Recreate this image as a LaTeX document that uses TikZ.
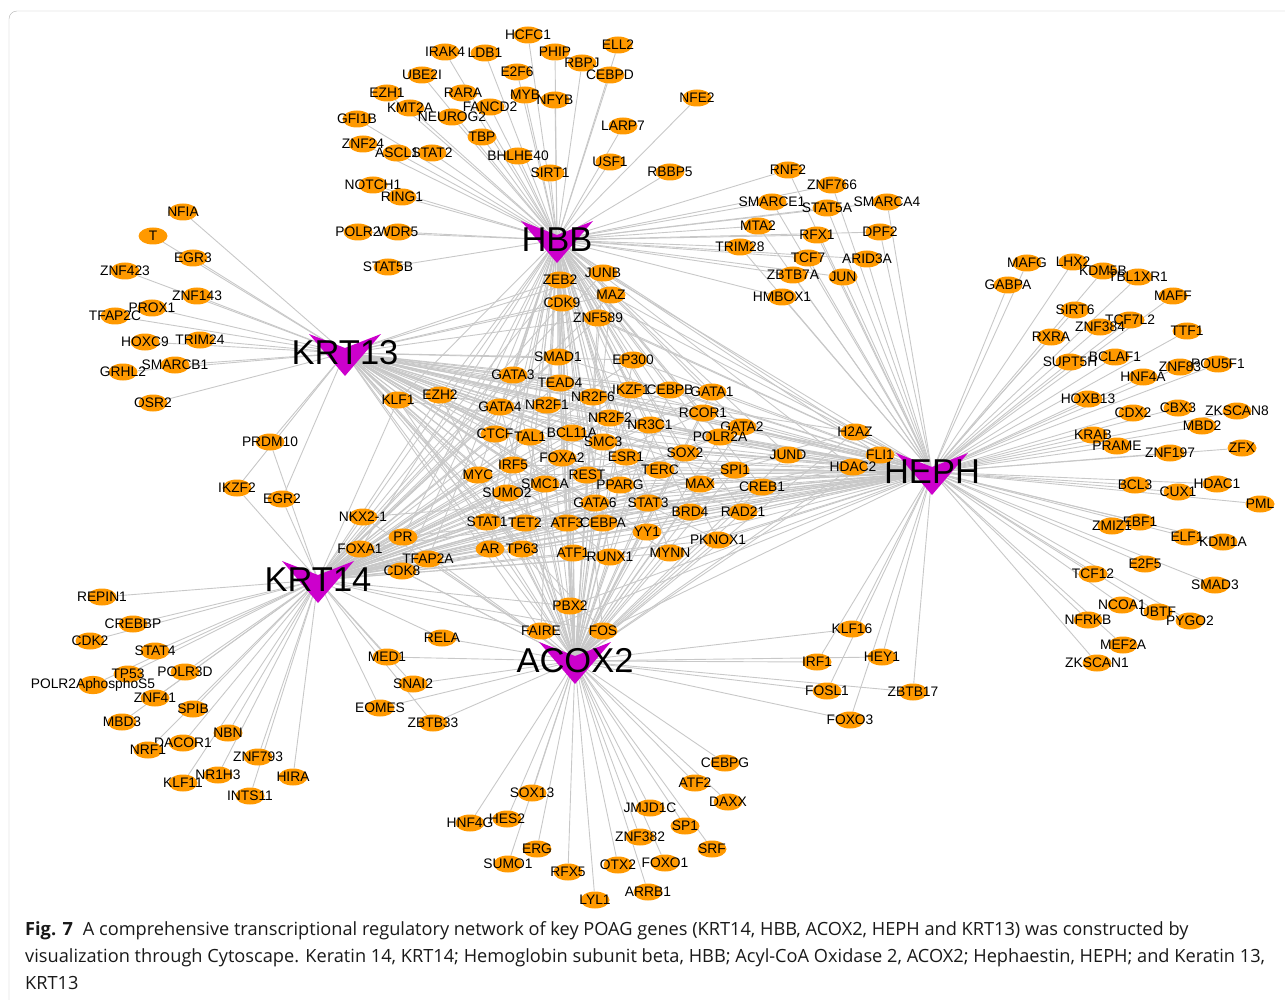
\documentclass[tikz,border=0pt]{standalone}
\usepackage{fontspec}
\setmainfont{Liberation Sans}
\newfontfamily\capfont{Open Sans}
\usetikzlibrary{shapes.geometric,backgrounds}
\definecolor{geneorange}{RGB}{255,153,0}
\definecolor{hubpink}{RGB}{204,0,204}
\definecolor{linkgray}{RGB}{200,200,200}
\definecolor{framegray}{RGB}{180,180,180}
\newcommand{\hubvee}[1]{%
  \fill[hubpink] ([shift={(-36,-19)}]#1.center) -- ([shift={(0,-5)}]#1.center)
    -- ([shift={(36,-19)}]#1.center) -- ([shift={(0,23)}]#1.center) -- cycle;}
\begin{document}
\begin{tikzpicture}[x=1pt,y=-1pt,
  gene/.style={ellipse,fill=geneorange,minimum width=29,minimum height=17,inner sep=0,
    font=\fontsize{13.8}{14}\selectfont,
    execute at begin node={\hbox to 0pt\bgroup\hss},
    execute at end node={\hss\egroup}},
  hub/.style={inner sep=0,font=\fontsize{34.5}{36}\selectfont},
  link/.style={draw=linkgray,line width=0.9},
  captext/.style={anchor=base west,inner sep=0,text=black!90,font=\capfont\fontsize{18.2}{20}\selectfont}]
  \useasboundingbox (0,0) rectangle (1285,1000);
  \draw [framegray,rounded corners=8] (9,11) rectangle (1330,1040);

  % hubs
  \node [hub] (HBB) at (557,240) {HBB};
  \node [hub] (KRT13) at (345,353) {KRT13};
  \node [hub] (KRT14) at (318,580) {KRT14};
  \node [hub] (ACOX2) at (575,661) {ACOX2};
  \node [hub] (HEPH) at (932,472) {HEPH};

  % HBB targets
  \node [gene] (HCFC1) at (528,35) {HCFC1};
  \node [gene] (IRAK4) at (445,52) {IRAK4};
  \node [gene] (LDB1) at (485,53) {LDB1};
  \node [gene] (PHIP) at (555,52) {PHIP};
  \node [gene] (ELL2) at (618,45) {ELL2};
  \node [gene] (RBPJ) at (582,63) {RBPJ};
  \node [gene] (E2F6) at (517,72) {E2F6};
  \node [gene] (CEBPD) at (610,75) {CEBPD};
  \node [gene] (UBE2I) at (422,75) {UBE2I};
  \node [gene] (EZH1) at (387,93) {EZH1};
  \node [gene] (RARA) at (463,93) {RARA};
  \node [gene] (MYB) at (525,95) {MYB};
  \node [gene] (NFYB) at (555,100) {NFYB};
  \node [gene] (FANCD2) at (490,107) {FANCD2};
  \node [gene] (KMT2A) at (410,108) {KMT2A};
  \node [gene] (NEUROG2) at (452,117) {NEUROG2};
  \node [gene] (GFI1B) at (357,119) {GFI1B};
  \node [gene] (NFE2) at (697,98) {NFE2};
  \node [gene] (LARP7) at (623,126) {LARP7};
  \node [gene] (TBP) at (482,137) {TBP};
  \node [gene] (ZNF24) at (363,144) {ZNF24};
  \node [gene] (ASCL1) at (397,153) {ASCL1};
  \node [gene] (STAT2) at (432,153) {STAT2};
  \node [gene] (BHLHE40) at (518,156) {BHLHE40};
  \node [gene] (USF1) at (610,162) {USF1};
  \node [gene] (SIRT1) at (550,173) {SIRT1};
  \node [gene] (RBBP5) at (670,172) {RBBP5};
  \node [gene] (NOTCH1) at (373,185) {NOTCH1};
  \node [gene] (RING1) at (402,197) {RING1};
  \node [gene] (POLR2) at (358,232) {POLR2};
  \node [gene] (WDR5) at (398,232) {WDR5};
  \node [gene] (STAT5B) at (388,267) {STAT5B};

  % HBB and HEPH targets
  \node [gene] (RNF2) at (788,170) {RNF2};
  \node [gene] (ZNF766) at (832,185) {ZNF766};
  \node [gene] (SMARCE1) at (772,202) {SMARCE1};
  \node [gene] (STAT5A) at (827,208) {STAT5A};
  \node [gene] (SMARCA4) at (887,202) {SMARCA4};
  \node [gene] (MTA2) at (758,226) {MTA2};
  \node [gene] (RFX1) at (817,235) {RFX1};
  \node [gene] (DPF2) at (880,232) {DPF2};
  \node [gene] (TRIM28) at (740,247) {TRIM28};
  \node [gene] (TCF7) at (808,258) {TCF7};
  \node [gene] (ARID3A) at (867,259) {ARID3A};
  \node [gene] (ZBTB7A) at (793,275) {ZBTB7A};
  \node [gene] (JUN) at (843,277) {JUN};
  \node [gene] (HMBOX1) at (782,297) {HMBOX1};

  % KRT13 targets
  \node [gene] (NFIA) at (183,212) {NFIA};
  \node [gene] (T) at (153,236) {T};
  \node [gene] (EGR3) at (193,258) {EGR3};
  \node [gene] (ZNF423) at (125,271) {ZNF423};
  \node [gene] (ZNF143) at (197,296) {ZNF143};
  \node [gene] (PROX1) at (152,308) {PROX1};
  \node [gene] (TFAP2C) at (115,316) {TFAP2C};
  \node [gene] (TRIM24) at (200,340) {TRIM24};
  \node [gene] (HOXC9) at (145,342) {HOXC9};
  \node [gene] (SMARCB1) at (175,365) {SMARCB1};
  \node [gene] (GRHL2) at (123,372) {GRHL2};
  \node [gene] (OSR2) at (153,403) {OSR2};
  \node [gene] (PRDM10) at (270,442) {PRDM10};
  \node [gene] (IKZF2) at (237,488) {IKZF2};
  \node [gene] (EGR2) at (282,499) {EGR2};

  % KRT14 targets
  \node [gene] (REPIN1) at (102,597) {REPIN1};
  \node [gene] (CREBBP) at (133,624) {CREBBP};
  \node [gene] (CDK2) at (90,641) {CDK2};
  \node [gene] (STAT4) at (155,651) {STAT4};
  \node [gene] (TP53) at (128,674) {TP53};
  \node [gene] (POLR3D) at (185,672) {POLR3D};
  \node [gene] (POLR2AphosphoS5) at (93,685) {POLR2AphosphoS5};
  \node [gene] (ZNF41) at (155,698) {ZNF41};
  \node [gene] (SPIB) at (193,709) {SPIB};
  \node [gene] (MBD3) at (122,722) {MBD3};
  \node [gene] (NBN) at (228,733) {NBN};
  \node [gene] (DACOR1) at (183,743) {DACOR1};
  \node [gene] (NRF1) at (148,750) {NRF1};
  \node [gene] (ZNF793) at (258,757) {ZNF793};
  \node [gene] (NR1H3) at (218,775) {NR1H3};
  \node [gene] (HIRA) at (293,777) {HIRA};
  \node [gene] (KLF11) at (183,783) {KLF11};
  \node [gene] (INTS11) at (250,796) {INTS11};
  \node [gene] (RELA) at (442,638) {RELA};
  \node [gene] (MED1) at (387,657) {MED1};
  \node [gene] (SNAI2) at (413,684) {SNAI2};
  \node [gene] (EOMES) at (380,708) {EOMES};
  \node [gene] (ZBTB33) at (433,723) {ZBTB33};

  % ACOX2 targets
  \node [gene] (CEBPG) at (725,763) {CEBPG};
  \node [gene] (ATF2) at (695,783) {ATF2};
  \node [gene] (DAXX) at (728,802) {DAXX};
  \node [gene] (SOX13) at (532,793) {SOX13};
  \node [gene] (JMJD1C) at (650,808) {JMJD1C};
  \node [gene] (HES2) at (507,819) {HES2};
  \node [gene] (HNF4G) at (470,823) {HNF4G};
  \node [gene] (SP1) at (685,826) {SP1};
  \node [gene] (ZNF382) at (640,837) {ZNF382};
  \node [gene] (ERG) at (537,849) {ERG};
  \node [gene] (SRF) at (712,849) {SRF};
  \node [gene] (SUMO1) at (508,864) {SUMO1};
  \node [gene] (OTX2) at (618,865) {OTX2};
  \node [gene] (FOXO1) at (665,863) {FOXO1};
  \node [gene] (RFX5) at (568,872) {RFX5};
  \node [gene] (ARRB1) at (648,892) {ARRB1};
  \node [gene] (LYL1) at (595,900) {LYL1};
  \node [gene] (KLF16) at (852,629) {KLF16};
  \node [gene] (IRF1) at (817,662) {IRF1};
  \node [gene] (HEY1) at (882,657) {HEY1};
  \node [gene] (FOSL1) at (827,691) {FOSL1};
  \node [gene] (ZBTB17) at (913,692) {ZBTB17};
  \node [gene] (FOXO3) at (850,720) {FOXO3};

  % HEPH targets
  \node [gene] (MAFG) at (1027,263) {MAFG};
  \node [gene] (LHX2) at (1073,262) {LHX2};
  \node [gene] (KDM5B) at (1103,271) {KDM5B};
  \node [gene] (TBL1XR1) at (1138,277) {TBL1XR1};
  \node [gene] (GABPA) at (1008,285) {GABPA};
  \node [gene] (MAFF) at (1173,296) {MAFF};
  \node [gene] (SIRT6) at (1075,310) {SIRT6};
  \node [gene] (TCF7L2) at (1130,320) {TCF7L2};
  \node [gene] (ZNF384) at (1100,327) {ZNF384};
  \node [gene] (TTF1) at (1187,331) {TTF1};
  \node [gene] (RXRA) at (1051,337) {RXRA};
  \node [gene] (SUPT5H) at (1070,362) {SUPT5H};
  \node [gene] (BCLAF1) at (1115,357) {BCLAF1};
  \node [gene] (ZNF83) at (1180,367) {ZNF83};
  \node [gene] (POU5F1) at (1218,364) {POU5F1};
  \node [gene] (HNF4A) at (1143,377) {HNF4A};
  \node [gene] (HOXB13) at (1088,399) {HOXB13};
  \node [gene] (CDX2) at (1133,413) {CDX2};
  \node [gene] (CBX3) at (1178,408) {CBX3};
  \node [gene] (ZKSCAN8) at (1237,411) {ZKSCAN8};
  \node [gene] (MBD2) at (1202,426) {MBD2};
  \node [gene] (KRAB) at (1093,435) {KRAB};
  \node [gene] (PRAME) at (1117,446) {PRAME};
  \node [gene] (ZNF197) at (1170,453) {ZNF197};
  \node [gene] (ZFX) at (1242,448) {ZFX};
  \node [gene] (BCL3) at (1135,485) {BCL3};
  \node [gene] (CUX1) at (1178,492) {CUX1};
  \node [gene] (HDAC1) at (1217,484) {HDAC1};
  \node [gene] (PML) at (1260,504) {PML};
  \node [gene] (EBF1) at (1140,522) {EBF1};
  \node [gene] (ZMIZ1) at (1112,526) {ZMIZ1};
  \node [gene] (ELF1) at (1187,537) {ELF1};
  \node [gene] (KDM1A) at (1223,542) {KDM1A};
  \node [gene] (E2F5) at (1145,564) {E2F5};
  \node [gene] (TCF12) at (1093,574) {TCF12};
  \node [gene] (SMAD3) at (1215,585) {SMAD3};
  \node [gene] (NCOA1) at (1122,605) {NCOA1};
  \node [gene] (UBTF) at (1158,612) {UBTF};
  \node [gene] (PYGO2) at (1190,621) {PYGO2};
  \node [gene] (NFRKB) at (1088,620) {NFRKB};
  \node [gene] (MEF2A) at (1123,645) {MEF2A};
  \node [gene] (ZKSCAN1) at (1097,663) {ZKSCAN1};

  % shared targets
  \node [gene] (ZEB2) at (560,280) {ZEB2};
  \node [gene] (JUNB) at (603,273) {JUNB};
  \node [gene] (MAZ) at (611,295) {MAZ};
  \node [gene] (CDK9) at (562,303) {CDK9};
  \node [gene] (ZNF589) at (598,318) {ZNF589};
  \node [gene] (SMAD1) at (558,357) {SMAD1};
  \node [gene] (EP300) at (633,360) {EP300};
  \node [gene] (GATA3) at (513,375) {GATA3};
  \node [gene] (TEAD4) at (560,383) {TEAD4};
  \node [gene] (IKZF1) at (631,390) {IKZF1};
  \node [gene] (CEBPB) at (670,390) {CEBPB};
  \node [gene] (GATA1) at (712,392) {GATA1};
  \node [gene] (KLF1) at (398,400) {KLF1};
  \node [gene] (EZH2) at (440,395) {EZH2};
  \node [gene] (GATA4) at (500,407) {GATA4};
  \node [gene] (NR2F1) at (547,405) {NR2F1};
  \node [gene] (NR2F6) at (593,397) {NR2F6};
  \node [gene] (NR2F2) at (610,418) {NR2F2};
  \node [gene] (NR3C1) at (650,425) {NR3C1};
  \node [gene] (RCOR1) at (703,413) {RCOR1};
  \node [gene] (GATA2) at (742,427) {GATA2};
  \node [gene] (POLR2A) at (720,437) {POLR2A};
  \node [gene] (H2AZ) at (855,432) {H2AZ};
  \node [gene] (CTCF) at (495,434) {CTCF};
  \node [gene] (TAL1) at (530,437) {TAL1};
  \node [gene] (BCL11A) at (572,433) {BCL11A};
  \node [gene] (SMC3) at (603,442) {SMC3};
  \node [gene] (SOX2) at (685,453) {SOX2};
  \node [gene] (JUND) at (788,455) {JUND};
  \node [gene] (FLI1) at (880,455) {FLI1};
  \node [gene] (HDAC2) at (853,467) {HDAC2};
  \node [gene] (ESR1) at (626,457) {ESR1};
  \node [gene] (FOXA2) at (562,458) {FOXA2};
  \node [gene] (IRF5) at (513,465) {IRF5};
  \node [gene] (MYC) at (478,475) {MYC};
  \node [gene] (TERC) at (660,470) {TERC};
  \node [gene] (SPI1) at (735,470) {SPI1};
  \node [gene] (REST) at (587,475) {REST};
  \node [gene] (PPARG) at (620,485) {PPARG};
  \node [gene] (SMC1A) at (545,484) {SMC1A};
  \node [gene] (MAX) at (700,484) {MAX};
  \node [gene] (CREB1) at (762,487) {CREB1};
  \node [gene] (SUMO2) at (507,493) {SUMO2};
  \node [gene] (GATA6) at (595,503) {GATA6};
  \node [gene] (STAT3) at (648,503) {STAT3};
  \node [gene] (BRD4) at (690,512) {BRD4};
  \node [gene] (RAD21) at (743,512) {RAD21};
  \node [gene] (STAT1) at (487,522) {STAT1};
  \node [gene] (TET2) at (525,523) {TET2};
  \node [gene] (ATF3) at (567,523) {ATF3};
  \node [gene] (CEBPA) at (603,523) {CEBPA};
  \node [gene] (YY1) at (647,532) {YY1};
  \node [gene] (PKNOX1) at (718,540) {PKNOX1};
  \node [gene] (AR) at (490,549) {AR};
  \node [gene] (TP63) at (522,549) {TP63};
  \node [gene] (ATF1) at (573,553) {ATF1};
  \node [gene] (RUNX1) at (610,557) {RUNX1};
  \node [gene] (MYNN) at (670,553) {MYNN};
  \node [gene] (NKX21) at (363,517) {NKX2-1};
  \node [gene] (PR) at (403,537) {PR};
  \node [gene] (FOXA1) at (360,549) {FOXA1};
  \node [gene] (TFAP2A) at (428,559) {TFAP2A};
  \node [gene] (CDK8) at (402,571) {CDK8};
  \node [gene] (PBX2) at (570,606) {PBX2};
  \node [gene] (FAIRE) at (541,631) {FAIRE};
  \node [gene] (FOS) at (603,631) {FOS};

  \begin{pgfonlayer}{background}
    \foreach \g in {HCFC1,IRAK4,LDB1,PHIP,ELL2,RBPJ,E2F6,CEBPD,UBE2I,EZH1,RARA,MYB,NFYB,FANCD2,
      KMT2A,NEUROG2,GFI1B,NFE2,LARP7,TBP,ZNF24,ASCL1,STAT2,BHLHE40,USF1,SIRT1,RBBP5,NOTCH1,
      RING1,POLR2,WDR5,STAT5B}
      \draw [link] (HBB.center) -- (\g);
    \foreach \g in {RNF2,ZNF766,SMARCE1,STAT5A,SMARCA4,MTA2,RFX1,DPF2,TRIM28,TCF7,ARID3A,
      ZBTB7A,JUN,HMBOX1}
      \draw [link] (HBB.center) -- (\g) -- (HEPH.center);
    \foreach \g in {NFIA,T,EGR3,ZNF423,ZNF143,PROX1,TFAP2C,TRIM24,HOXC9,SMARCB1,GRHL2,OSR2}
      \draw [link] (KRT13.center) -- (\g);
    \foreach \g in {PRDM10,IKZF2,EGR2}
      \draw [link] (KRT13.center) -- (\g) -- (KRT14.center);
    \foreach \g in {REPIN1,CREBBP,CDK2,STAT4,TP53,POLR3D,POLR2AphosphoS5,ZNF41,SPIB,MBD3,NBN,
      DACOR1,NRF1,ZNF793,NR1H3,HIRA,KLF11,INTS11}
      \draw [link] (KRT14.center) -- (\g);
    \foreach \g in {RELA,MED1,SNAI2,EOMES,ZBTB33}
      \draw [link] (KRT14.center) -- (\g) -- (ACOX2.center);
    \foreach \g in {CEBPG,ATF2,DAXX,SOX13,JMJD1C,HES2,HNF4G,SP1,ZNF382,ERG,SRF,SUMO1,OTX2,
      FOXO1,RFX5,ARRB1,LYL1}
      \draw [link] (ACOX2.center) -- (\g);
    \foreach \g in {KLF16,IRF1,HEY1,FOSL1,ZBTB17,FOXO3}
      \draw [link] (ACOX2.center) -- (\g) -- (HEPH.center);
    \foreach \g in {MAFG,LHX2,KDM5B,TBL1XR1,GABPA,MAFF,SIRT6,TCF7L2,ZNF384,TTF1,RXRA,SUPT5H,
      BCLAF1,ZNF83,POU5F1,HNF4A,HOXB13,CDX2,CBX3,ZKSCAN8,MBD2,KRAB,PRAME,ZNF197,ZFX,BCL3,
      CUX1,HDAC1,PML,EBF1,ZMIZ1,ELF1,KDM1A,E2F5,TCF12,SMAD3,NCOA1,UBTF,PYGO2,NFRKB,MEF2A,
      ZKSCAN1}
      \draw [link] (HEPH.center) -- (\g);
    \foreach \g in {ZEB2,JUNB,MAZ,CDK9,ZNF589,SMAD1,EP300,GATA3,TEAD4,IKZF1,CEBPB,GATA1,KLF1,
      EZH2,GATA4,NR2F1,NR2F6,NR2F2,NR3C1,RCOR1,GATA2,POLR2A,H2AZ,CTCF,TAL1,BCL11A,SMC3,SOX2,
      JUND,FLI1,HDAC2,ESR1,FOXA2,IRF5,MYC,TERC,SPI1,REST,PPARG,SMC1A,MAX,CREB1,SUMO2,GATA6,
      STAT3,BRD4,RAD21,STAT1,TET2,ATF3,CEBPA,YY1,PKNOX1,AR,TP63,ATF1,RUNX1,MYNN,PBX2,FAIRE,FOS}
      \foreach \h in {HBB,KRT13,KRT14,ACOX2,HEPH}
        \draw [link] (\h.center) -- (\g);
    \foreach \g in {NKX21,PR,FOXA1,TFAP2A,CDK8}
      \foreach \h in {HBB,KRT14,ACOX2,HEPH}
        \draw [link] (\h.center) -- (\g);
    \hubvee{HBB} \hubvee{KRT13} \hubvee{KRT14} \hubvee{ACOX2} \hubvee{HEPH}
  \end{pgfonlayer}

  % caption
  \node [captext] (cap1) at (25,935) {\textbf{Fig. 7}\hspace{0.55em}A comprehensive transcriptional regulatory network of key POAG genes (KRT14, HBB, ACOX2, HEPH and KRT13) was constructed by};
  \node [captext] (cap2) at (25,962) {visualization through Cytoscape. Keratin 14, KRT14; Hemoglobin subunit beta, HBB; Acyl-CoA Oxidase 2, ACOX2; Hephaestin, HEPH; and Keratin 13,};
  \node [captext] (cap3) at (25,989) {KRT13};
\end{tikzpicture}
\end{document}
